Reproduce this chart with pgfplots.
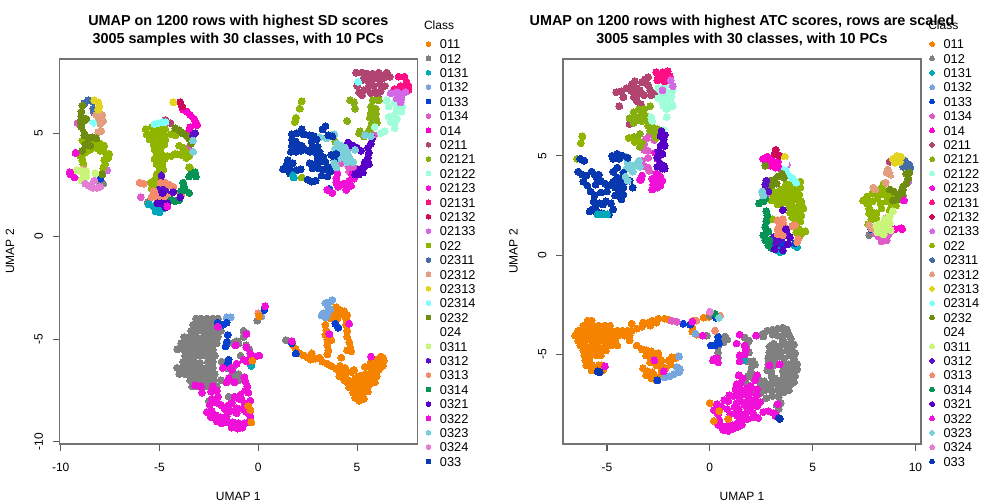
\documentclass[border=0pt]{standalone}
\usepackage{fontspec}
\setmainfont{Liberation Sans}
\usepackage{pgfplots}
\pgfplotsset{compat=1.18}

\definecolor{c011}{HTML}{F58300}
\definecolor{c012}{HTML}{808080}
\definecolor{c0131}{HTML}{00A9BA}
\definecolor{c0132}{HTML}{75A7DE}
\definecolor{c0133}{HTML}{0540D0}
\definecolor{c0134}{HTML}{E05AC8}
\definecolor{c014}{HTML}{FF00CC}
\definecolor{c0211}{HTML}{B24471}
\definecolor{c02121}{HTML}{87AE0F}
\definecolor{c02122}{HTML}{A0FFD8}
\definecolor{c02123}{HTML}{F010D8}
\definecolor{c02131}{HTML}{FF0D83}
\definecolor{c02132}{HTML}{CC0A58}
\definecolor{c02133}{HTML}{D467E8}
\definecolor{c022}{HTML}{90B500}
\definecolor{c02311}{HTML}{466CA8}
\definecolor{c02312}{HTML}{E39E80}
\definecolor{c02313}{HTML}{E3D51F}
\definecolor{c02314}{HTML}{80FFFF}
\definecolor{c0232}{HTML}{6E8C0F}
\definecolor{c0311}{HTML}{C8F57A}
\definecolor{c0312}{HTML}{5A10C8}
\definecolor{c0313}{HTML}{F28C6C}
\definecolor{c0314}{HTML}{059455}
\definecolor{c0321}{HTML}{5600C8}
\definecolor{c0322}{HTML}{F010D8}
\definecolor{c0323}{HTML}{7ACFD8}
\definecolor{c0324}{HTML}{E57FD6}
\definecolor{c033}{HTML}{0838B0}

\pgfplotsset{
  umap/.style={
    scale only axis, width=268.5pt, height=288.75pt, anchor=south west,
    axis line style={color=black!55, line width=0.8pt},
    tick style={color=black!65, line width=0.8pt},
    tick align=outside, major tick length=5pt, xtick pos=bottom, ytick pos=left,
    /pgf/number format/assume math mode=true,
    tick label style={font=\fontsize{9}{11}\selectfont},
    xticklabel style={anchor=center, yshift=-12.5pt},
    yticklabel style={rotate=90, anchor=center, yshift=10.5pt},
    xlabel={UMAP 1}, ylabel={UMAP 2},
    label style={font=\fontsize{9}{11}\selectfont},
    xlabel style={at={(axis description cs:0.5,-0.135)}, anchor=center},
    ylabel style={at={(axis description cs:-0.138,0.5)}, anchor=center},
    title style={at={(axis description cs:0.5,1)}, anchor=south, yshift=0pt, align=center,
      font=\bfseries\fontsize{10.8}{13}\selectfont},
    every axis plot/.append style={only marks, mark=*, mark size=2.6pt, mark options={line width=0pt}},
    clip=false,
    legend cell align=left,
    legend image code/.code={\draw[##1,mark size=1.8pt] plot coordinates {(0pt,0pt)};},
    legend style={at={(axis description cs:1.0243,1.0512)}, anchor=north west, draw=none, fill=none,
      inner sep=0pt, outer sep=0pt, row sep=3.8pt, column sep=6.8pt,
      font=\fontsize{9.6}{11}\selectfont,
      nodes={inner sep=0pt, text height=7pt, text depth=0pt}},
  }
}

\begin{document}
\begin{tikzpicture}
\path[use as bounding box] (0,0) rectangle (756pt,378pt);

% left panel: SD
\begin{axis}[umap, at={(44.5pt,45pt)}, xmin=-10.07, xmax=8.05, ymin=-10.1, ymax=8.61,
  xtick={-10,-5,0,5}, ytick={-10,-5,0,5},
  title={UMAP on 1200 rows with highest SD scores\\3005 samples with 30 classes, with 10 PCs}]
\addplot[color=c011] coordinates {
 (1.75,-5.3)(1.9,-5.5)(2.1,-5.7)(2.3,-5.8)(2.5,-5.9)(2.65,-6.0)(2.7,-5.7)(2.9,-5.95)(3.1,-5.9)(3.25,-6.1)(3.5,-6.2)(3.7,-6.3)(3.95,-6.45)
 (4.15,-6.3)(4.4,-6.4)(4.15,-6.6)(4.4,-6.7)(4.7,-6.6)(4.1,-6.8)(4.35,-7.0)(4.55,-7.0)(4.85,-6.5)
 (4.5,-7.1)(4.75,-7.1)(5.0,-7.1)(5.25,-7.0)(5.5,-7.0)(5.75,-6.9)(6.0,-6.8)(4.6,-7.35)(4.85,-7.35)(5.1,-7.35)(5.35,-7.3)(5.6,-7.25)(5.9,-7.1)
 (4.8,-7.6)(5.05,-7.6)(5.3,-7.6)(5.55,-7.55)(4.9,-7.85)(5.15,-7.85)(5.35,-7.9)(5.1,-8.0)(4.9,-6.9)(5.1,-6.8)(5.3,-6.75)
 (5.5,-6.7)(5.7,-6.65)(5.9,-6.5)(6.1,-6.5)(6.3,-6.3)(5.4,-6.35)(5.6,-6.35)(5.8,-6.35)(6.15,-6.2)(6.35,-6.05)(6.2,-5.85)(6.0,-6.0)(5.85,-6.1)(5.7,-6.1)(6.3,-5.9)
 (3.95,-3.45)(4.15,-3.6)(4.35,-3.65)(4.5,-3.85)(4.45,-4.0)(4.2,-3.8)(4.0,-3.7)(4.45,-4.3)(4.5,-4.6)(4.5,-4.9)(4.6,-5.15)(4.65,-5.4)(4.7,-5.6)(4.5,-5.55)(4.2,-5.9)
 (3.4,-4.3)(3.45,-4.6)(3.4,-4.8)(3.5,-5.0)(3.7,-5.05)(3.5,-5.3)(3.55,-5.55)(3.5,-5.75)(3.65,-4.0)(3.85,-3.9)(4.0,-4.0)(3.75,-3.7)(3.6,-3.8)};
\addlegendentry{011}
\addplot[color=c012] coordinates {
 (-3.15,-4.0)(-2.9,-4.0)(-2.6,-4.0)(-2.3,-4.0)(-2.05,-4.0)(-3.3,-4.3)(-3.05,-4.3)(-2.75,-4.3)(-2.45,-4.3)(-2.15,-4.3)
 (-3.4,-4.6)(-3.1,-4.6)(-2.8,-4.6)(-2.5,-4.6)(-2.2,-4.6)(-1.9,-4.6)(-3.75,-4.9)(-3.45,-4.9)(-3.15,-4.9)(-2.85,-4.95)(-2.6,-4.9)(-2.35,-4.9)(-2.05,-4.9)(-0.75,-4.9)(-0.6,-4.7)(-0.75,-4.6)
 (-3.9,-5.2)(-3.6,-5.2)(-3.3,-5.2)(-3,-5.2)(-2.7,-5.2)(-2.4,-5.2)(-2.1,-5.2)(-1.1,-5.1)(-1.0,-5.2)(-1.3,-5.2)
 (-4.1,-5.5)(-3.8,-5.5)(-3.5,-5.5)(-3.2,-5.5)(-2.9,-5.5)(-2.6,-5.5)(-2.3,-5.5)(-0.6,-5.3)(-0.45,-5.5)
 (-3.7,-5.8)(-3.4,-5.8)(-3.1,-5.8)(-2.8,-5.8)(-2.5,-5.8)(-2.2,-5.8)(-0.9,-5.8)
 (-3.8,-6.1)(-3.5,-6.1)(-3.25,-6.1)(-2.95,-6.15)(-2.55,-6.1)(-2.3,-6.1)(-1.85,-6.1)
 (-4.1,-6.4)(-3.8,-6.4)(-3.5,-6.4)(-3.2,-6.4)(-2.9,-6.4)(-2.6,-6.4)(-2.3,-6.4)(-1.6,-6.4)(-1.3,-6.4)
 (-4.0,-6.7)(-3.7,-6.7)(-3.4,-6.7)(-3.1,-6.7)(-2.8,-6.7)(-2.5,-6.7)(-2.2,-6.7)(-1.3,-6.7)(-1.0,-6.7)
 (-3.45,-7.0)(-3.15,-7.0)(-2.85,-7.0)(-2.55,-7.0)(-2.25,-7.0)(-1.9,-7.0)(-1.3,-7.0)(-1.0,-7.0)
 (-3.35,-7.3)(-3.05,-7.3)(-2.7,-7.3)(-2.45,-7.3)(-2.1,-7.3)(-2.5,-8.0)(-1.5,-7.8)(-0.05,-4.1)(1.4,-5.05)
 (-8.0,2.55)(-7.85,2.55)(-5.6,1.65)};
\addlegendentry{012}
\addplot[color=c0131] coordinates {(-5.55,1.55)(-5.3,1.45)(-5.1,1.35)(-4.9,1.45)(-4.8,1.35)(-5.2,1.2)(-5.0,1.15)(-0.35,-6.3)};
\addlegendentry{0131}
\addplot[color=c0132] coordinates {(-1.6,-3.95)(-1.4,-3.95)(0.15,-3.9)(3.4,-3.25)(3.6,-3.2)(3.75,-3.1)(3.55,-3.45)(3.65,-3.55)(3.2,-3.85)(3.4,-3.95)(3.5,-3.8)(3.3,-3.75)};
\addlegendentry{0132}
\addplot[color=c0133] coordinates {(-2.05,-4.2)(-1.8,-4.3)(-1.6,-4.2)(-1.55,-4.8)(-1.6,-5.15)(-1.65,-5.35)(-1.5,-6.0)(-1.55,-6.2)(0.3,-3.6)(1.9,-5.7)(1.7,-5.2)(3.9,-4.25)(4.05,-4.45)(-8.0,2.8)(-4.5,1.9)(3.6,2.3)};
\addlegendentry{0133}
\addplot[color=c0134] coordinates {(-9.15,5.5)(-3.55,4.3)(-5.95,1.9)(-4.1,1.75)(4.55,3.4)(4.9,3.3)(4.6,3.15)(4.2,3.55)(5.85,4.9)(4.45,3.9)};
\addlegendentry{0134}
\addplot[color=c014] coordinates {(-3.8,6.15)(-3.6,6.05)(-3.45,5.9)(-3.25,5.7)(-3.15,5.5)(-3.1,5.4)(-3.45,5.3)(-3.5,5.15)};
\addlegendentry{014}
\addplot[color=c0211] coordinates {(4.95,7.95)(5.25,7.95)(5.5,7.9)(5.8,7.9)(6.1,7.95)(6.5,7.95)(6.65,7.75)(6.35,7.7)(6.05,7.65)(5.75,7.6)(5.55,7.55)(5.3,7.6)(5.6,7.3)(5.85,7.3)(6.15,7.4)(6.4,7.3)(5.9,7.0)(6.2,7.05)(6.05,6.8)(5.7,6.95)(5.35,7.1)(5.25,6.85)(5.0,7.3)(5.1,7.0)(-4.45,5.5)(-4.7,5.65)};
\addlegendentry{0211}
\addplot[color=c02121] coordinates {(4.65,6.6)(4.85,6.5)(4.9,6.2)(5.8,6.6)(6.1,6.6)(5.7,6.3)(5.95,6.2)(5.7,6.0)(5.95,5.95)(5.65,5.75)(5.95,5.7)(5.75,5.5)(6.0,5.5)(5.7,5.3)(5.6,5.1)(5.5,4.95)(5.35,4.85)(5.15,5.1)(4.5,5.6)(5.1,5.0)(3.9,4.6)};
\addlegendentry{02121}
\addplot[color=c02122] coordinates {(6.5,6.6)(6.9,6.5)(6.6,6.3)(7.0,6.2)(7.3,6.3)(7.25,6.05)(6.9,5.9)(6.6,5.8)(6.7,5.55)(6.9,5.5)(7.0,5.7)(6.9,5.25)(6.4,5.1)(6.2,5.0)(5.9,5.3)};
\addlegendentry{02122}
\addplot[color=c02123] coordinates {(5.0,3.05)(4.75,3.0)(4.85,2.8)(4.6,2.7)(4.3,2.55)(4.05,2.4)(4.45,2.4)(3.95,2.6)(4.0,3.05)(3.95,2.8)(3.5,2.25)(3.75,2.1)(4.7,2.45)(4.45,2.25)};
\addlegendentry{02123}
\addplot[color=c02131] coordinates {(7.1,7.75)(7.4,7.75)(7.5,7.5)(7.6,7.3)(7.2,7.3)(6.9,7.15)(7.4,7.15)(7.6,7.1)};
\addlegendentry{02131}
\addplot[color=c02132] coordinates {(-3.95,6.5)(-3.85,6.3)};
\addlegendentry{02132}
\addplot[color=c02133] coordinates {(6.7,6.95)(7.0,7.0)(7.2,6.9)(7.45,7.0)(7.0,6.7)(7.25,6.7)(7.2,6.5)(-3.7,3.9)(-7.65,3.2)(4.5,4.2)};
\addlegendentry{02133}
\addplot[color=c022] coordinates {(-8.9,4.65)(-8.7,4.55)(-8.4,4.6)(-8.2,4.55)(-8,4.5)(-7.85,4.3)(-7.8,4.4)(-8.9,4.0)(-8.7,4.1)(-8.5,4.2)(-8.2,4.3)(-8.0,4.15)(-7.7,4.0)(-7.55,4.0)(-7.6,3.8)(-7.8,3.7)(-7.75,3.5)(-7.85,3.3)(-9.0,3.9)(-8.9,3.7)(-8.85,3.5)
 (-5.7,5.2)(-5.4,5.3)(-5.1,5.25)(-4.9,5.2)(-4.7,5.2)(-5.65,4.95)(-5.35,5.0)(-5.05,4.95)(-4.75,4.95)(-5.5,4.7)(-5.2,4.7)(-4.9,4.7)(-4.7,4.7)(-5.3,4.45)(-5.0,4.45)(-4.75,4.45)(-5.25,4.2)(-4.95,4.2)(-5.15,3.95)(-4.85,3.95)(-5.25,3.75)(-5.0,3.7)(-4.75,3.75)(-5.15,3.5)(-4.85,3.5)(-4.8,3.25)(-5.0,3.2)(-5.15,3.0)(-4.95,2.9)(-5.25,2.75)(-5.45,2.6)(-5.15,2.5)(-5.4,2.3)
 (-4.4,4.95)(-4.2,4.9)(-4.6,3.9)(-4.4,3.9)(-4.2,4.0)(-4.1,3.98)(-4,4.4)(-3.8,4.3)(-3.65,4.1)(-3.9,3.95)(-3.55,4.0)(-3.5,3.9)(-3.65,3.8)(-3.45,3.3)(-3.5,3.35)
 (2.2,6.55)(2.1,6.2)(1.9,5.75)(1.85,5.55)(2.2,2.85)};
\addlegendentry{022}
\addplot[color=c02311] coordinates {(-8.8,6.45)(-8.6,6.6)(-8.4,6.55)(-8.35,6.2)(-8.3,6.0)};
\addlegendentry{02311}
\addplot[color=c02312] coordinates {(-8.2,5.9)(-7.9,5.9)(-8.05,5.7)(-7.85,5.6)(-8.0,5.45)(-7.95,5.1)(-8.1,5.05)(-8.85,3.25)};
\addlegendentry{02312}
\addplot[color=c02313] coordinates {(-8.3,6.6)(-8.1,6.5)(-8.05,6.3)(-8.1,6.15)(-4.3,6.5)};
\addlegendentry{02313}
\addplot[color=c02314] coordinates {(-8.35,5.5)(-5.25,5.45)(-5.05,5.5)(-4.85,5.55)(-4.7,5.55)(5.05,7.5)};
\addlegendentry{02314}
\addplot[color=c0232] coordinates {(-8.9,6.35)(-8.95,6.05)(-8.95,5.8)(-9.0,5.55)(-8.85,5.6)(-8.7,5.7)(-8.95,5.3)(-8.8,5.1)(-8.8,4.9)(-8.6,4.75)(-8.4,4.8)(-8.2,4.75)(-8.75,4.45)(-8.5,4.4)(-8.9,4.15)(-7.9,3.0)(-4.2,5.25)(-4.0,5.15)(-3.8,5.0)(-3.6,4.85)(-3.5,4.75)(-3.4,4.5)(-3.85,5.0)};
\addlegendentry{0232}
\addplot[color=white] coordinates {(-8.55,5.25)(3.25,5.85)(3.05,5.95)};
\addlegendentry{024}
\addplot[color=c0311] coordinates {(-9.2,3.2)(-9.0,3.2)(-8.7,3.15)(-8.85,3.0)(-8.7,2.9)(-8.95,2.75)(-8.25,3.05)(-8.9,2.7)};
\addlegendentry{0311}
\addplot[color=c0312] coordinates {(-4.9,2.95)(-4.9,2.7)(-4.7,2.3)(-4.55,2.0)(-5.0,2.3)(-3.3,4.9)(-3.2,5.0)};
\addlegendentry{0312}
\addplot[color=c0313] coordinates {(-6.0,2.6)(-5.8,2.55)(-4.95,2.6)(-4.7,2.6)(-4.5,2.5)(-4.3,2.4)(-5.3,2.2)(-5.2,2.0)(-5.4,1.9)(-5.1,1.8)(-4.9,1.9)(-4.6,1.9)(-4.5,1.8)(-3.95,2.1)(-3.9,2.0)(0.0,-3.75)};
\addlegendentry{0313}
\addplot[color=c0314] coordinates {(-3.4,3.0)(-3.2,3.1)(-3.15,2.9)(-3.5,2.9)(-3.8,2.6)(-3.75,2.4)(-3.7,2.25)(-3.5,2.1)(-3.9,2.2)(-4.4,1.75)(-4.2,1.7)(-4.0,1.75)};
\addlegendentry{0314}
\addplot[color=c0321] coordinates {(5.75,4.75)(5.7,4.5)(5.55,4.3)(5.6,4.05)(5.55,3.8)(5.4,3.6)(5.35,3.35)(5.6,3.5)(5.3,3.1)(5.1,3.0)(5.15,3.25)(4.9,3.0)(4.55,4.55)(5.0,4.3)(5.2,4.15)(4.8,4.4)(4.65,4.45)(-4.85,2.1)(-5.1,1.6)(-4.9,1.6)(-4.6,1.6)(-4.3,2.15)(-4.7,1.4)(-3.95,1.9)};
\addlegendentry{0321}
\addplot[color=c0322] coordinates {(-0.6,-5.4)(-0.4,-5.7)(-0.15,-5.85)(-0.4,-5.9)(0.05,-5.8)(-0.75,-6.0)(-0.55,-6.1)(-1.1,-6.2)(-1.4,-6.4)(-1.8,-6.4)(-1.35,-6.5)
 (-0.7,-6.85)(-0.65,-7.05)(-0.55,-7.3)(-0.65,-7.5)(-0.5,-7.6)(-1.5,-6.9)(-1.6,-7.1)(-1.2,-7.1)(-3.2,-7.25)(-2.9,-7.3)(-2.85,-7.6)
 (-2.3,-7.3)(-2.1,-7.5)(-2.4,-7.55)(-2.05,-7.8)(-2.35,-7.9)(-2.1,-8.1)(-2.45,-8.2)(-2.6,-8.55)(-2.35,-8.5)(-2.4,-8.8)(-2.15,-8.7)(-2.1,-9.0)(-1.9,-8.8)(-1.85,-9.1)(-1.6,-9.05)(-1.6,-8.75)(-1.3,-9.05)(-1.35,-9.3)(-1.05,-9.35)(-0.8,-9.3)(-1.0,-9.1)(-0.7,-9.1)(-0.45,-9.05)(-0.4,-8.75)
 (-1.7,-8.4)(-1.5,-8.2)(-1.4,-8.5)(-1.1,-8.6)(-1.1,-8.35)(-1.0,-7.9)(-0.9,-7.7)(-1.2,-7.8)(-0.7,-8.1)(-0.8,-8.4)(-0.6,-8.55)(-0.5,-8.3)(-0.4,-8.0)(-0.85,-7.9)(-1.35,-8.1)(-1.9,-8.2)
 (-2.05,-4.4)(-1.15,-5.3)(-0.6,-4.75)(0.35,-3.4)(1.7,-5.1)(3.6,-4.75)(4.6,-4.25)(5.7,-5.85)(-9.25,4.05)(-9.55,3.1)(-9.5,3.0)(-9.3,2.85)(-4.6,1.45)};
\addlegendentry{0322}
\addplot[color=c0323] coordinates {(3.1,4.8)(3.45,4.75)(3.85,4.95)(4.0,4.5)(4.2,4.4)(4.4,4.3)(3.9,4.25)(4.2,4.1)(4.5,4.1)(4.35,3.8)(4.6,3.85)(4.5,3.6)(4.8,3.6)(4.1,3.8)(3.95,3.7)(4.9,4.2)(5.4,4.9)(5.7,4.85)(-3.3,4.65)(-3.3,4.1)};
\addlegendentry{0323}
\addplot[color=c0324] coordinates {(-8.75,2.55)(-8.55,2.45)(-8.35,2.35)(-8.15,2.35)(-8.0,2.4)(-8.3,2.7)};
\addlegendentry{0324}
\addplot[color=c033] coordinates {(1.7,4.95)(1.95,5.0)(2.3,4.95)(1.7,4.7)(1.9,4.6)(1.7,4.4)(1.95,4.35)(2.2,4.4)(1.65,4.1)(1.9,4.1)(2.15,4.15)(2.4,4.2)(2.6,4.1)(2.6,4.9)(2.8,4.85)(2.7,4.6)(2.95,4.7)(2.75,4.35)(3.0,4.35)(2.85,4.1)(3.1,4.1)(3.0,3.85)(3.3,3.85)(3.1,3.6)(3.4,3.6)(2.95,3.55)(2.6,3.55)(2.75,3.3)(3.05,3.3)(3.35,3.25)(3.6,3.3)(3.8,3.4)(3.85,3.7)(3.7,3.95)(3.95,4.0)(1.5,3.7)(1.45,3.5)(1.35,3.25)(1.6,3.3)(1.75,3.55)(1.95,3.2)(2.15,3.25)(1.6,3.05)(1.25,3.25)(2.5,2.75)(2.7,2.65)(2.9,2.7)(3.2,2.95)(3.5,2.9)(3.65,3.15)(2.2,5.2)(3.25,5.2)(3.4,5.35)(3.55,4.9)(3.75,4.85)};
\addlegendentry{033}
% points that lie over the later series
\addplot[color=c0131, forget plot] coordinates {(1.75,2.95)(1.8,2.85)};
\addplot[color=c0323, forget plot] coordinates {(3.85,3.55)(3.95,3.35)};
\addplot[color=c011, forget plot] coordinates {(-0.3,-6.05)(-0.5,-8.25)(-0.4,-8.45)(-0.35,-9.05)(0.05,-3.9)};
\end{axis}

% right panel: ATC
\begin{axis}[umap, at={(422.25pt,45pt)}, xmin=-7.14, xmax=10.27, ymin=-9.51, ymax=9.87,
  xtick={-5,0,5,10}, ytick={-5,0,5},
  title={UMAP on 1200 rows with highest ATC scores, rows are scaled\\3005 samples with 30 classes, with 10 PCs}]
\addplot[color=c011] coordinates {(-5.95,-3.3)(-5.75,-3.3)
 (-6.15,-3.55)(-5.9,-3.55)(-5.65,-3.55)(-5.4,-3.55)(-5.1,-3.55)(-4.85,-3.55)
 (-6.4,-3.8)(-6.15,-3.8)(-5.9,-3.8)(-5.6,-3.8)(-5.35,-3.8)(-5.05,-3.8)(-4.8,-3.8)(-4.5,-3.8)(-4.25,-3.8)(-4.0,-3.8)(-3.8,-3.8)
 (-6.55,-4.05)(-6.3,-4.05)(-6.05,-4.05)(-5.8,-4.05)(-5.5,-4.05)(-5.25,-4.05)(-5.0,-4.05)(-4.75,-4.05)(-4.45,-4.05)(-4.15,-4.05)(-3.9,-4.05)
 (-6.4,-4.3)(-6.1,-4.3)(-5.75,-4.3)(-5.4,-4.3)(-5.15,-4.3)(-4.9,-4.3)(-4.6,-4.3)(-3.9,-4.3)
 (-6.3,-4.55)(-6.05,-4.55)(-5.75,-4.55)(-5.45,-4.55)(-5.1,-4.55)(-4.8,-4.55)(-4.5,-4.55)
 (-6.15,-4.8)(-5.95,-4.8)(-5.6,-4.8)(-5.25,-4.8)(-5.05,-4.8)(-6.1,-5.05)(-5.85,-5.05)(-5.5,-5.05)(-5.3,-5.05)(-6.05,-5.3)(-5.85,-5.3)
 (-6.0,-5.55)(-5.75,-5.55)(-5.4,-5.55)(-5.25,-5.55)(-5.75,-5.8)(-5.5,-5.8)(-5.2,-5.8)
 (-3.55,-3.7)(-3.3,-3.6)(-3.25,-3.4)(-3.0,-3.4)(-2.8,-3.3)(-2.6,-3.4)(-2.5,-3.2)(-2.9,-3.55)(-2.2,-3.2)(-2.0,-3.25)(-3.8,-3.45)
 (-3.55,-4.55)(-3.3,-4.75)(-3.1,-4.8)(-2.85,-4.85)(-2.5,-4.95)(-3.1,-5.05)(-2.8,-5.15)(-2.6,-5.25)(-2.35,-5.3)(-2.9,-5.4)(-2.6,-5.55)(-2.35,-5.6)(-3.25,-5.7)(-3.05,-5.85)(-2.8,-5.9)(-3.1,-6.05)(-2.85,-6.2)(-2.6,-6.3)(-2.7,-6.05)(-2.4,-6.1)(-2.35,-5.85)(-2.15,-5.7)(-1.9,-5.5)(-1.7,-5.2)(-2.0,-5.3)(-1.85,-5.15)(-1.6,-5.15)
 (-0.3,-3.15)(-0.05,-3.1)(0.4,-3.1)(-0.8,-3.3)(-0.85,-3.65)(-0.85,-3.85)(-0.65,-4.0)};
\addlegendentry{011}
\addplot[color=c012] coordinates {(7.75,1.0)(7.95,1.1)(0.0,-3.05)(-0.15,-4.05)
 (0.65,-4.2)(0.85,-4.25)(0.75,-4.1)(0.4,-4.6)(0.4,-4.9)(0.4,-5.15)(0.65,-4.4)
 (2.8,-3.8)(3.05,-3.75)(3.3,-3.7)(3.55,-3.65)(3.75,-3.75)(2.6,-3.95)(2.6,-4.1)(3.05,-4.0)(3.3,-4.05)(3.6,-3.95)(3.85,-4.0)(3.95,-4.2)(3.55,-4.25)(3.1,-4.45)(2.9,-4.6)(3.15,-4.7)(3.4,-4.6)(3.65,-4.5)(3.9,-4.45)(4.1,-4.5)(2.9,-4.9)(3.15,-5.0)(3.45,-4.9)(3.75,-4.8)(4.0,-4.75)(4.15,-4.95)(2.85,-5.2)(3.1,-5.3)(3.35,-5.1)(3.6,-5.2)(3.85,-5.05)(4.1,-5.25)(2.85,-5.5)(3.1,-5.55)(3.6,-5.5)(3.85,-5.5)(4.0,-5.5)(4.25,-5.5)(2.8,-5.8)(3.0,-5.9)(3.0,-6.1)(3.55,-5.85)(3.75,-5.8)(3.6,-6.1)(3.15,-6.2)(3.45,-6.3)(3.9,-5.9)(4.1,-5.85)(4.25,-5.75)(3.65,-6.35)(3.9,-6.2)(4.15,-6.1)(3.3,-6.5)(3.6,-6.6)(3.9,-6.55)(4.1,-6.4)(3.0,-6.45)(2.8,-6.55)(2.7,-6.8)(3.0,-6.8)(3.3,-6.8)(3.6,-6.9)(3.85,-6.8)(2.75,-7.2)(3.05,-7.1)(3.35,-7.15)(3.45,-7.45)(3.25,-7.55)(3.35,-7.75)
 (1.7,-4.15)(1.9,-4.3)(1.8,-4.45)(2.55,-4.0)(1.75,-4.65)(1.9,-4.9)(1.6,-5.2)(1.85,-5.35)(2.1,-5.35)(2.2,-5.5)(2.05,-5.6)(2.0,-5.85)(1.85,-6.1)(1.75,-6.4)(2.1,-6.2)(2.4,-6.3)(2.65,-6.35)(2.45,-6.6)(2.2,-6.9)(2.45,-6.95)(1.9,-6.65)};
\addlegendentry{012}
\addplot[color=c0131] coordinates {(3.3,0.4)(3.45,0.3)(3.55,0.2)(3.4,0.15)(3.25,0.25)(4.1,0.5)(4.25,0.4)(1.65,-5.3)};
\addlegendentry{0131}
\addplot[color=c0132] coordinates {(-1.5,-5.1)(-1.6,-5.65)(-1.45,-5.75)(-1.5,-5.9)(-1.75,-6.0)(-1.95,-6.1)(-2.2,-6.15)(-0.7,-3.95)};
\addlegendentry{0132}
\addplot[color=c0133] coordinates {(0.4,-4.1)(0.4,-4.3)(0.25,-4.55)(0.05,-4.55)(0.45,-4.45)(-1.3,-3.45)(-0.95,-3.5)(0.3,-3.15)(-2.55,-6.3)(7.85,1.3)(3.35,1.2)(3.45,1.0)(4.15,0.6)(3.5,0.55)};
\addlegendentry{0133}
\addplot[color=c0134] coordinates {(-2.9,6.1)(-3.1,5.85)(-3.2,5.6)(-3.2,5.3)(-3.0,5.25)(-3.3,4.75)(-3.0,4.9)(-3.2,4.5)(-3.0,4.4)(-2.95,4.25)(-2.7,5.8)(2.8,3.3)(2.9,3.1)(8.05,1.1)(8.2,0.95)(8.35,0.85)(8.55,0.9)(8.35,0.7)(8.6,0.75)(8.7,1.05)(8.85,1.25)(-1.85,-3.3)(-1.6,-3.35)};
\addlegendentry{0134}
\addplot[color=c014] coordinates {(2.6,4.85)(2.8,4.95)(3.0,4.8)(3.15,4.65)(3.3,4.7)(2.95,4.5)(3.2,4.4)(3.35,4.4)(2.8,4.6)(9.0,1.3)(9.3,1.35)(9.35,1.3)};
\addlegendentry{014}
\addplot[color=c0211] coordinates {(-4.55,8.2)(-4.3,8.25)(-4.05,8.4)(-3.8,8.6)(-3.65,8.75)(-3.15,8.85)(-3.0,8.95)(-3.3,8.7)(-3.55,8.4)(-3.8,8.25)(-3.5,8.1)(-3.2,8.05)(-3.4,8.3)(-3.7,7.95)(-3.55,7.75)(-3.35,7.6)(-4.2,7.95)(-4.4,7.5)(-2.9,8.3)(-2.7,8.1)(-3.0,8.55)(-2.85,8.05)(-3.85,6.8)(-3.9,6.6)(8.75,4.7)};
\addlegendentry{0211}
\addplot[color=c02121] coordinates {(-3.9,6.9)(-3.7,7.2)(-3.45,7.35)(-3.65,6.95)(-3.35,7.05)(-3.1,7.0)(-3.6,6.75)(-3.3,6.75)(-3.0,6.8)(-3.7,6.65)(-2.9,7.5)(-3.2,7.35)(-3.0,6.5)(-2.8,6.5)(-2.9,6.25)(-2.65,6.1)(-2.55,6.35)(-3.4,5.45)(-3.7,5.95)(-3.4,6.1)(-3.3,5.65)};
\addlegendentry{02121}
\addplot[color=c02122] coordinates {(-2.5,8.4)(-2.2,8.5)(-1.95,8.6)(-1.8,8.3)(-2.35,8.1)(-2.05,8.2)(-2.5,7.9)(-2.1,7.9)(-1.85,8.0)(-2.3,7.7)(-1.9,7.7)(-2.25,7.5)(-2.0,7.45)(-1.8,7.5)(-2.1,7.35)(-2.1,6.95)(-2.85,6.95)(-2.8,6.75)(-2.25,6.3)};
\addlegendentry{02122}
\addplot[color=c02123] coordinates {(-3.3,4.0)(-3.35,3.8)(-2.8,3.85)(-2.6,3.9)(-2.4,3.95)(-2.5,3.7)(-2.3,3.75)(-2.75,3.55)(-2.55,3.4)(-2.4,3.5)(-2.8,3.3)(-3.4,3.8)(-2.5,4.95)(-2.55,4.85)(-2.6,4.1)(-2.5,4.05)(-2.65,5.15)};
\addlegendentry{02123}
\addplot[color=c02131] coordinates {(-2.6,9.2)(-2.3,9.2)(-2.05,9.25)(-1.95,9.0)(-2.5,8.95)(-2.2,8.95)(-2.55,8.8)(-2.2,8.75)};
\addlegendentry{02131}
\addplot[color=c02132] coordinates {(3.2,5.3)(3.15,5.1)(3.4,5.0)};
\addlegendentry{02132}
\addplot[color=c02133] coordinates {(-1.9,8.8)(-1.8,8.5)(-2.3,8.3)(9.65,3.75)(9.65,3.7)(3.75,4.55)};
\addlegendentry{02133}
\addplot[color=c022] coordinates {(-6.45,4.85)(-6.2,5.98)(-6.27,5.64)(-3.5,5.75)(-3.95,5.9)(-3.65,5.7)(-2.6,5.9)
 (3.45,3.3)(3.7,3.55)(3.95,3.6)(4.2,3.65)(4.4,3.7)(3.1,3.2)(3.4,3.05)(3.65,3.2)(3.9,3.3)(4.15,3.35)(4.4,3.4)(3.1,2.95)(3.35,2.8)(3.6,2.9)(3.85,2.95)(4.1,3.0)(4.35,3.05)(3.0,2.75)(3.3,2.55)(3.5,2.6)(3.75,2.65)(4.0,2.7)(4.3,2.75)(4.45,2.7)(3.85,2.4)(4.1,2.4)(4.35,2.45)(4.45,2.55)(3.9,2.15)(4.15,2.15)(4.4,2.2)(4.55,2.35)(4.0,1.9)(4.25,1.9)(4.45,2.0)(4.15,1.65)(4.4,1.7)(4.2,1.4)(4.35,1.3)(4.2,1.15)(4.4,1.15)(4.35,0.9)(4.65,1.2)(4.45,1.1)(3.05,1.8)
 (8.45,3.6)(8.35,3.4)(8.4,3.3)(7.45,2.75)(7.65,2.95)(7.9,3.1)(8.15,3.1)(8.4,3.05)(8.65,3.0)(8.85,3.0)(7.65,2.6)(7.9,2.7)(7.75,2.35)(7.9,2.15)(8.15,2.85)(7.75,2.1)(8.1,2.1)(8.3,2.6)(8.6,2.7)(8.85,2.5)(8.35,2.35)(7.85,1.8)(8.1,1.85)(7.7,1.55)(9.05,2.5)(8.75,2.25)};
\addlegendentry{022}
\addplot[color=c02311] coordinates {(9.5,4.75)(9.55,4.5)(9.7,4.55)(9.75,4.4)(9.4,4.45)};
\addlegendentry{02311}
\addplot[color=c02312] coordinates {(8.65,4.3)(8.6,4.15)(8.8,4.05)(8.55,3.65)(7.75,1.5)(8.55,1.85)(7.85,1.35)(8.05,3.3)(7.95,3.4)};
\addlegendentry{02312}
\addplot[color=c02313] coordinates {(3.65,4.95)(8.9,4.85)(9.1,5.0)(9.3,4.95)(9.25,4.7)(9.0,4.65)};
\addlegendentry{02313}
\addplot[color=c02314] coordinates {(3.7,4.2)(3.9,3.95)(4.05,3.85)(4.2,3.65)(3.65,4.35)};
\addlegendentry{02314}
\addplot[color=c0232] coordinates {(3.5,4.1)(3.3,3.95)(3.15,3.8)(2.95,3.75)(3.05,3.55)(2.85,3.4)(3.25,3.6)(3.6,3.9)(2.7,4.5)(9.55,4.1)(9.7,4.15)(9.65,3.85)(9.55,3.6)(9.4,3.45)(9.3,3.2)(9.4,3.0)(9.15,3.05)(8.95,3.2)(8.75,3.3)(9.15,2.8)(8.9,2.75)(9.4,3.3)};
\addlegendentry{0232}
\addplot[color=white] coordinates {(3.68,4.63)(-4.85,5.3)(9.1,4.1)};
\addlegendentry{024}
\addplot[color=c0311] coordinates {(8.9,2.2)(8.75,1.95)(8.5,1.8)(8.5,1.55)(8.25,1.55)(8.75,1.6)(8.1,1.45)(8.3,1.35)(8.55,1.3)(8.8,1.25)(8.15,1.15)(8.45,1.05)};
\addlegendentry{0311}
\addplot[color=c0312] coordinates {(3.3,1.0)(3.1,0.9)(3.4,0.8)(3.5,0.85)(3.2,0.55)(3.75,1.1)(2.7,3.55)(2.75,3.75)(2.85,3.2)};
\addlegendentry{0312}
\addplot[color=c0313] coordinates {(3.3,1.75)(3.55,1.8)(3.4,1.55)(3.6,1.5)(3.3,1.3)(3.55,1.25)(3.3,1.05)(4.15,1.5)(4.0,1.45)(4.3,0.8)(4.25,0.65)(3.55,1.0)(-0.65,-3.3)(0.25,-3.8)(0.5,-3.05)};
\addlegendentry{0313}
\addplot[color=c0314] coordinates {(2.4,2.6)(2.6,2.7)(2.7,2.85)(2.75,2.2)(2.8,2.0)(2.75,1.7)(2.7,1.4)(2.75,1.15)(2.85,1.2)(2.65,0.95)(2.7,0.75)(2.9,0.75)(2.6,1.0)(2.85,0.5)(3.0,0.35)(0.25,-2.95)};
\addlegendentry{0314}
\addplot[color=c0321] coordinates {(-2.35,6.25)(-2.4,6.0)(-2.2,6.05)(-2.25,5.8)(-2.4,5.5)(-2.2,5.5)(-2.5,5.2)(-2.3,5.1)(-2.55,4.9)(-2.4,4.6)(-2.25,4.5)(-2.55,4.45)(-2.3,4.35)(-2.2,4.35)(3.55,2.27)(3.9,0.9)(3.7,1.3)(3.15,0.3)(3.8,0.55)(3.55,0.25)};
\addlegendentry{0321}
\addplot[color=c0322] coordinates {(-2.7,-5.3)(-2.25,-5.85)(-5.1,-5.6)(-0.85,-3.35)(-0.35,-4.05)(0.15,-5.3)(0.4,-5.4)(0.35,-5.2)(9.45,2.75)
 (1.3,-6.5)(1.5,-6.45)(1.6,-6.2)(1.25,-6.75)(1.5,-6.8)(1.8,-6.7)(2.0,-6.6)(2.2,-6.3)(2.3,-6.75)(2.3,-7.05)(2.45,-7.4)
 (0.95,-7.05)(1.15,-7.1)(1.4,-7.1)(1.65,-7.0)(1.95,-6.95)(0.7,-7.3)(0.9,-7.35)(1.3,-7.45)(1.6,-7.4)(1.85,-7.3)(2.1,-7.3)(0.35,-7.5)(0.55,-7.6)(0.85,-7.75)(1.2,-7.65)(1.4,-7.75)(1.75,-7.6)(2.05,-7.6)(2.3,-7.6)(0.2,-7.8)(0.4,-8.0)(1.0,-8.0)(1.25,-8.0)(1.55,-8.0)(1.8,-7.9)(2.1,-7.95)(2.35,-8.2)(2.6,-7.9)(2.85,-7.85)(3.1,-7.95)(3.2,-8.05)
 (0.4,-8.55)(0.6,-8.6)(0.85,-8.6)(1.1,-8.55)(1.35,-8.45)(1.6,-8.3)(1.85,-8.25)(2.1,-8.15)(0.45,-8.3)(0.65,-8.8)(0.9,-8.85)(1.1,-8.75)(1.35,-8.65)(1.55,-8.55)(1.35,-8.1)
 (1.45,-4.0)(1.3,-4.45)(1.7,-4.55)(1.75,-4.75)(2.25,-4.05)(0.2,-5.25)(1.45,-5.05)(1.7,-5.0)(1.45,-5.35)(3.4,-5.5)(2.9,-5.55)(2.3,-6.05)(1.4,-6.05)(3.3,-7.5)(3.2,-8.1)};
\addlegendentry{0322}
\addplot[color=c0323] coordinates {(-4.1,4.95)(-4.0,4.65)(-3.95,4.45)(-3.6,4.55)(-3.45,4.75)(-3.7,4.5)(-3.4,4.45)(-4.05,4.35)(-3.75,4.2)(2.55,3.2)(2.6,3.0)(0.45,-3.15)};
\addlegendentry{0323}
\addplot[color=c0324] coordinates {(0.0,-2.85)};
\addlegendentry{0324}
\addplot[color=c033] coordinates {(-6.3,4.85)(-6.1,4.75)(-6.4,4.2)(-6.2,4.05)(-6.0,4.0)(-5.75,4.2)(-5.6,4.05)(-5.4,4.05)(-6.15,3.7)(-5.95,3.5)(-5.8,3.2)(-5.6,3.0)(-5.65,2.7)(-5.55,2.45)(-5.7,2.3)(-5.85,2.2)(-5.5,2.15)(-5.25,2.1)(-5.3,3.15)(-5.0,3.2)(-5.35,2.6)(-5.2,2.55)(-5.05,2.7)(-4.8,2.6)(-4.7,2.3)(-4.9,2.05)(-5.5,3.9)(-5.55,3.55)
 (-5.3,3.75)(-5.1,3.6)(-4.9,3.5)(-4.7,3.7)(-4.5,3.9)(-4.35,3.8)(-4.6,3.4)(-4.45,3.3)(-4.2,3.4)(-4.35,3.6)(-4.1,3.7)(-3.9,3.75)(-4.2,4.15)(-4.5,4.4)(-4.7,4.2)(-4.45,3.05)(-4.2,3.05)(-4.6,3.0)(-4.3,2.8)(-4.75,5.0)(-4.5,5.1)(-4.25,5.0)(-4.4,4.85)(-4.7,4.85)(-4.0,4.9)(-3.75,3.4)
 (-5.45,-5.85)(-5.35,-5.9)(3.35,-8.2)(3.4,-8.25)};
\addlegendentry{033}
% points that lie over the later series
\addplot[color=c0131, forget plot] coordinates {(-5.45,2.05)(-5.2,2.05)(-5.0,2.05)};
\addplot[color=c0323, forget plot] coordinates {(-4.1,3.95)(-4.0,3.75)};
\addplot[color=c011, forget plot] coordinates {(0.0,-7.45)(0.45,-7.85)(0.2,-8.35)(0.9,-8.25)};
\end{axis}

\node[anchor=base west, inner sep=0pt, font=\fontsize{9}{11}\selectfont] at (317.8pt,355.9pt) {Class};
\node[anchor=base west, inner sep=0pt, font=\fontsize{9}{11}\selectfont] at (696pt,355.9pt) {Class};
\end{tikzpicture}
\end{document}
